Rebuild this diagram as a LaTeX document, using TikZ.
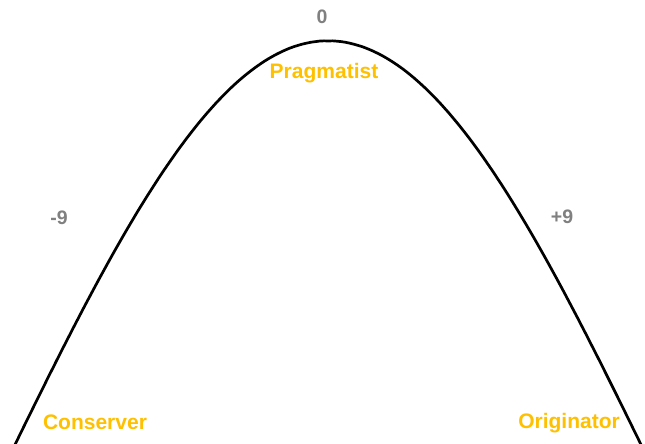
\documentclass[tikz,border=0pt]{standalone}
\usepackage{fontspec}
\setmainfont{Liberation Sans}
\definecolor{labelgold}{HTML}{FFC000}
\definecolor{labelgray}{HTML}{808080}
\begin{document}
\begin{tikzpicture}[x=1pt,y=-1pt,
  category/.style={inner sep=0pt,text=labelgold,font=\fontsize{21}{25}\selectfont\bfseries},
  scorelabel/.style={inner sep=0pt,text=labelgray,font=\fontsize{19.5}{23}\selectfont\bfseries},
  curve/.style={line width=2.7pt,black}]
\useasboundingbox (0,0) rectangle (645,444);
\begin{scope}
\clip (0,0) rectangle (645,444);
\draw[curve,domain=-340:345,samples=160,smooth] plot ({328+\x},{41+1120*(1-exp(-0.5*(\x/331)*(\x/331)))});
\end{scope}
\node[scorelabel] (zero) at (322,17) {0};
\node[scorelabel] (minus) at (59,218) {-9};
\node[scorelabel] (plus) at (562,217) {+9};
\node[category] (prag) at (324,73) {Pragmatist};
\node[category] (cons) at (95,422) {Conserver};
\node[category] (orig) at (569,423) {Originator};
\end{tikzpicture}
\end{document}
